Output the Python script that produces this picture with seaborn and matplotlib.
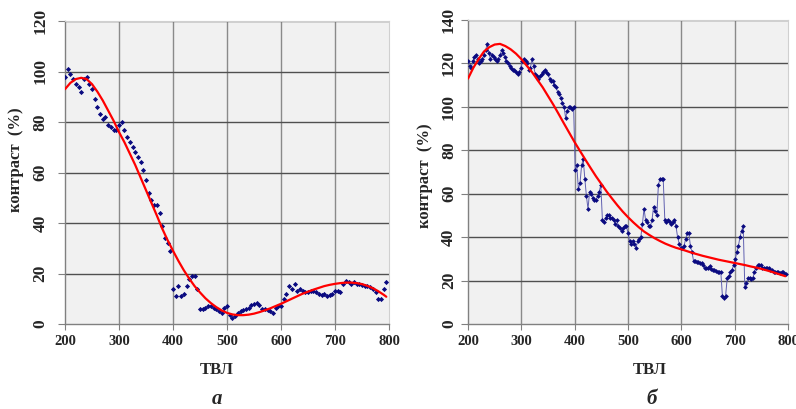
import numpy as np
import pandas as pd
import matplotlib
matplotlib.use('Agg')
import matplotlib.pyplot as plt
import seaborn as sns

# panel a: measured points (every 5 TVL) and the red trend curve
tvl_a = list(range(200, 800, 5))
contrast_a = [98, 101, 99, 97, 95, 94, 92, 97, 98, 95, 93,
              89, 86, 83, 81, 82, 79, 78, 77, 77,
              79, 80, 77, 74, 72, 70, 68, 66, 64, 61,
              57, 52, 49, 47, 47, 44, 39, 34, 32, 29,
              14, 11, 15, 11, 12, 15, 18, 19, 19, 14,
              6, 6, 6.5, 7, 7, 6.5, 6, 5, 4.5, 6.5,
              7, 3.5, 2.5, 3, 4.5, 5, 5.5, 6, 6.5, 7.5,
              8, 8.5, 7.5, 6, 6, 5.5, 5, 4.5, 6.5, 7,
              7, 10, 12, 15, 14, 16, 13, 14, 13, 12.5,
              12.5, 13, 13, 12.5, 12, 11.5, 12, 11, 11.5, 12,
              13, 13, 12.5, 16, 17, 16.5, 16, 16.5, 16, 16,
              15.5, 15, 15, 14.5, 14, 12.5, 10, 10, 14, 16.5]
trend_x_a = list(range(200, 800, 10)) + [795]
trend_a = [93, 95.5, 97, 97.5, 97, 95, 92, 88.5, 84.5, 80.5,
           76, 72, 67.5, 63, 58, 53, 48, 43, 37.8, 33.2,
           29, 25, 21.3, 18, 15, 12.5, 10.2, 8.3, 6.7, 5.4,
           4.4, 3.8, 3.5, 3.5, 3.7, 4.1, 4.7, 5.4, 6.2, 7.1,
           8.0, 9.0, 10, 11, 12, 12.8, 13.6, 14.3, 15, 15.5,
           15.9, 16.2, 16.4, 16.4, 16.2, 15.8, 15.1, 14.2, 13.0, 11.6, 10.8]

# panel b: measured curve (every 3 TVL) and the red trend curve
tvl_b = list(range(200, 800, 3))
contrast_b = [121, 119, 118, 121, 123, 124, 122, 120, 121, 122,
              124, 126, 129, 125, 122, 124, 123, 122, 121, 122,
              124, 126, 125, 123, 121, 120, 119, 118, 117, 117,
              116, 115, 116, 118, 121, 122, 121, 120, 117, 118,
              122, 119, 115, 114, 113, 114, 115, 116, 117, 116,
              115, 113, 112, 112, 110, 109, 107, 106, 104, 102,
              100, 95, 98, 100, 100, 99, 100, 71, 73, 62,
              65, 73, 76, 67, 59, 53, 61, 60, 58, 57,
              57, 59, 61, 64, 48, 47, 49, 50, 50, 49,
              49, 48, 46, 48, 45, 44, 43, 44, 45, 45,
              42, 38, 37, 38, 37, 35, 38, 39, 40, 46,
              53, 48, 47, 45, 45, 48, 54, 52, 50, 64,
              67, 67, 67, 48, 47, 48, 47, 46, 47, 48,
              45, 40, 37, 35, 35, 36, 39, 42, 42, 36,
              33, 29, 29, 28.5, 28.5, 28, 28, 27, 26, 26,
              26, 26.5, 25.5, 25, 25, 24.5, 24, 24, 24, 13,
              12, 13, 21, 22, 24, 25, 27, 30, 33, 36,
              40, 43, 45, 17, 19, 21, 21, 20.5, 21, 24,
              26, 27, 27, 27, 26, 26, 26, 26, 26, 25,
              25, 24, 24, 24, 24, 23.5, 24, 24, 23, 23]
trend_x_b = list(range(200, 800, 10)) + [795]
trend_b = [113, 118, 122, 125.5, 127.5, 128.7, 129, 128, 126.5, 124.5,
           122, 119, 116, 112.5, 109, 105, 101, 96.7, 92.3, 88,
           83.7, 79.7, 75.7, 71.8, 68, 64.5, 61, 57.8, 54.7, 51.8,
           49.2, 46.8, 44.6, 42.6, 41, 39.5, 38.2, 37, 36, 35.1,
           34.4, 33.6, 32.8, 32.1, 31.4, 30.8, 30.2, 29.6, 29.1, 28.6,
           28.1, 27.6, 27.1, 26.5, 26, 25.4, 24.7, 24, 23.2, 22.4, 22]

df_a = pd.DataFrame({'tvl': tvl_a, 'contrast': contrast_a})
df_b = pd.DataFrame({'tvl': tvl_b, 'contrast': contrast_b})
trend_df_a = pd.DataFrame({'tvl': trend_x_a, 'contrast': trend_a})
trend_df_b = pd.DataFrame({'tvl': trend_x_b, 'contrast': trend_b})

sns.set_theme(style='white')
plt.rcParams['font.family'] = ['Liberation Serif', 'DejaVu Serif']
plt.rcParams['font.weight'] = 'bold'

fig = plt.figure(figsize=(7.96, 4.09), dpi=100)
ax_a = fig.add_axes([65 / 796, 85 / 409, 324 / 796, 303 / 409])
ax_b = fig.add_axes([468 / 796, 85 / 409, 320 / 796, 304 / 409])

navy = '#0a0a80'

sns.scatterplot(data=df_a, x='tvl', y='contrast', ax=ax_a, color=navy,
                marker='D', s=7, linewidth=0, legend=False, zorder=3)
sns.lineplot(data=trend_df_a, x='tvl', y='contrast', ax=ax_a, color='#ff0000',
             linewidth=1.6, zorder=4)

sns.lineplot(data=df_b, x='tvl', y='contrast', ax=ax_b, color='#6060b0',
             linewidth=0.7, zorder=3)
sns.scatterplot(data=df_b, x='tvl', y='contrast', ax=ax_b, color=navy,
                marker='D', s=6, linewidth=0, legend=False, zorder=3)
sns.lineplot(data=trend_df_b, x='tvl', y='contrast', ax=ax_b, color='#ff0000',
             linewidth=1.6, zorder=4)

for ax, ymax, ypad in [(ax_a, 120, 7), (ax_b, 140, 3)]:
    ax.set_facecolor('#f1f1f1')
    ax.set_xlim(200, 800)
    ax.set_ylim(0, ymax)
    ax.set_xticks(range(200, 801, 100))
    ax.set_yticks(range(0, ymax + 1, 20))
    for v in range(300, 800, 100):
        ax.axvline(v, color='#8a8a8a', lw=1.0, zorder=1)
    for v in range(20, ymax + 1, 20):
        ax.axhline(v, color='#505050', lw=1.0, zorder=1)
    ax.set_xlabel('')
    ax.set_ylabel('')
    for side in ['top', 'right']:
        ax.spines[side].set_color('#d0d0d0')
        ax.spines[side].set_linewidth(0.8)
    for side in ['left', 'bottom']:
        ax.spines[side].set_color('#808080')
        ax.spines[side].set_linewidth(1.0)
    ax.tick_params(axis='x', length=4, width=0.8, color='#808080', pad=4,
                   labelsize=10.5, bottom=True)
    ax.tick_params(axis='y', length=5, width=0.8, color='#808080', pad=ypad,
                   labelsize=12.5, left=True)
    for lab in ax.get_xticklabels():
        lab.set_fontweight('bold')
    for lab in ax.get_yticklabels():
        lab.set_rotation(90)
        lab.set_va('center')
        lab.set_fontweight('bold')

fig.text(16 / 796, 1 - 160 / 409, 'контраст  (%)', rotation=90, ha='center',
         va='center', fontsize=12, fontweight='bold')
fig.text(425 / 796, 1 - 176 / 409, 'контраст  (%)', rotation=90, ha='center',
         va='center', fontsize=12, fontweight='bold')
fig.text(217 / 796, 1 - 370 / 409, 'ТВЛ', ha='center', va='center',
         fontsize=12, fontweight='bold')
fig.text(650 / 796, 1 - 370 / 409, 'ТВЛ', ha='center', va='center',
         fontsize=12, fontweight='bold')
fig.text(217 / 796, 1 - 399 / 409, 'а', ha='center', va='center',
         fontsize=15, fontweight='bold', fontstyle='italic')
fig.text(652 / 796, 1 - 399 / 409, 'б', ha='center', va='center',
         fontsize=15, fontweight='bold', fontstyle='italic')

fig.savefig('out.png', dpi=100, facecolor='white')
